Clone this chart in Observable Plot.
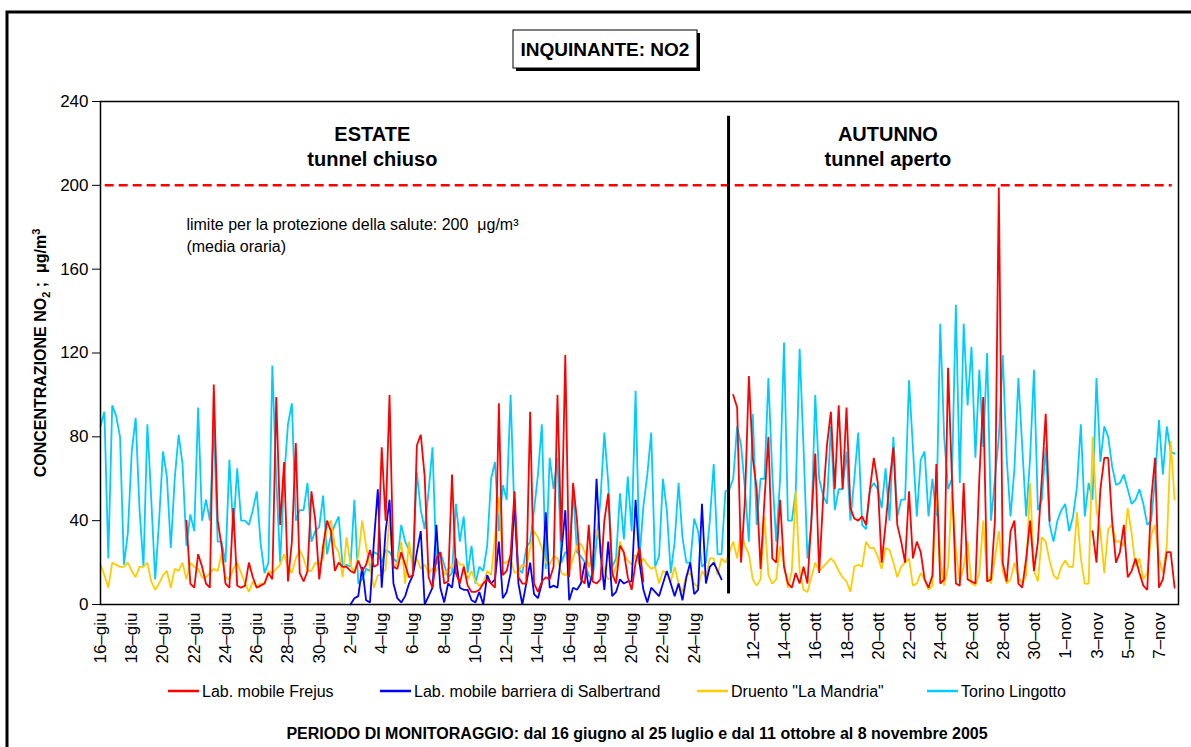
<!DOCTYPE html>
<html>
<head>
<meta charset="utf-8">
<script src="https://cdn.jsdelivr.net/npm/d3@7"></script>
<script src="https://cdn.jsdelivr.net/npm/@observablehq/plot@0.6"></script>
<style>
  body { margin: 0; background: #fff; }
  svg { font-family: "Liberation Sans", Arial, sans-serif; }
</style>
</head>
<body>
<div id="chart"></div>
<script>
// ---------- DATA (readings every 6 hours; null = no measurement) ----------
const STEP = 0.25;          // days between readings
const AUTUMN_START = 40;    // autumn readings follow the 40 summer days
const none = n => Array(n).fill(null);

const seriesNames = ["Lab. mobile Frejus", "Lab. mobile barriera di Salbertrand", "Druento \"La Mandria\"", "Torino Lingotto"];
const seriesColors = ["#ff0000", "#0000ff", "#ffcc00", "#00ccff"];

const frejusSummer = [
  ...none(22),
  40,10,8,24,18,10,8,105,40,28,10,8,46,9,8,9,20,13,
  8,9,10,15,12,99,38,68,11,30,77,15,11,16,54,40,12,28,40,35,16,20,18,18,16,15,21,16,19,26,18,19,75,40,100,18,17,25,19,13,
  14,76,81,61,13,8,22,25,10,11,62,15,10,18,9,6,6,7,10,12,10,8,96,14,16,24,54,13,10,10,92,10,6,11,13,12,18,100,30,119,
  13,58,40,12,10,38,11,10,12,40,53,15,10,28,25,13,7,20,27,11,
  ...none(20)
];
const frejusAutumn = [
  ...none(2),
  100,94,20,50,109,70,55,17,50,80,22,20,50,18,10,8,15,10,18,10,40,72,15,50,76,92,55,95,55,94,46,41,40,42,38,55,70,58,
  20,38,58,75,38,30,20,54,22,30,25,12,8,14,67,10,12,113,60,10,9,58,12,11,10,60,99,11,12,40,199,20,11,35,40,10,8,22,40,16,
  30,60,91,40,
  ...none(10),
  35,20,55,70,70,40,20,25,38,13,16,22,15,9,7,50,70,8,12,25,25,8
];

const salbertrandSummer = [
  ...none(64),
  0,3,4,18,2,1,30,55,8,35,50,10,3,1,4,10,
  14,25,35,0,4,8,38,8,1,10,8,22,8,7,7,2,1,6,0,14,10,12,30,3,6,15,50,10,0,10,20,5,3,10,44,8,9,8,25,45,
  2,8,7,10,20,8,15,60,25,7,30,4,6,12,10,11,11,50,20,7,1,8,6,4,10,16,10,4,10,2,13,20,5,7,48,10,18,20,16,12
];
const salbertrandAutumn = [];

const druentoSummer = [
  19,14,8,20,19,18,18,20,16,13,18,18,20,11,7,10,14,16,8,17,16,20,12,20,18,17,13,13,15,17,16,24,13,12,17,20,15,10,6,11,
  8,10,10,16,15,17,19,24,18,15,22,26,22,16,16,20,19,22,38,40,28,25,13,32,19,15,23,40,28,18,8,14,14,17,42,17,20,30,10,30,
  16,22,17,19,15,17,16,21,14,17,18,22,19,19,12,16,11,9,10,16,14,32,51,20,20,22,15,16,19,18,27,35,32,27,20,19,23,22,15,14,
  16,22,28,29,25,18,22,36,29,16,12,13,18,30,24,21,19,24,19,22,19,17,18,10,16,15,11,18,10,6,14,15,10,8,16,13,22,22,14,22
];
const druentoAutumn = [
  20,25,30,22,35,28,24,12,9,12,42,14,10,12,28,19,8,16,54,16,7,6,13,20,16,18,20,22,20,16,13,11,6,18,19,18,30,27,27,23,
  17,27,26,20,13,18,20,22,9,10,15,12,7,9,58,22,9,18,54,26,11,18,30,10,9,15,40,14,10,22,35,16,10,12,20,13,10,14,58,16,
  11,32,30,21,14,12,18,21,18,18,44,22,10,10,80,45,35,15,36,38,30,30,28,46,34,18,22,12,15,33,38,22,15,28,78,50
];

const torinoSummer = [
  85,92,22,95,90,80,19,34,73,89,45,18,86,50,12,40,73,61,27,60,81,67,28,43,35,94,40,50,40,86,30,30,20,69,35,65,40,40,38,45,
  54,29,15,20,114,60,20,60,86,96,40,45,45,58,30,35,37,52,24,33,38,42,18,19,18,50,10,12,17,16,25,24,20,26,25,22,20,38,30,26,
  20,63,45,36,54,75,19,25,19,13,15,48,30,42,15,28,10,18,16,28,60,68,35,57,50,100,42,17,15,27,30,45,62,86,17,70,55,70,20,25,
  24,54,25,23,20,14,12,30,50,82,58,18,22,53,31,61,35,102,22,47,62,82,18,23,60,45,15,30,58,32,20,20,41,35,18,20,40,67,24,24
];
const torinoAutumn = [
  54,55,60,85,76,55,30,91,38,60,60,108,62,30,60,125,40,40,54,122,75,22,38,100,60,52,48,85,45,55,55,73,40,60,82,38,36,55,58,55,
  46,65,40,80,42,50,50,107,75,42,69,73,42,60,42,134,80,55,60,143,58,134,95,123,70,112,75,120,40,60,80,119,70,42,65,108,75,42,70,112,
  45,50,75,38,30,40,45,48,35,42,56,86,42,58,50,108,68,85,80,66,57,58,62,55,48,50,55,48,38,40,60,88,62,85,73,72
];

const summerTickLabels = ["16–giu","18–giu","20–giu","22–giu","24–giu","26–giu","28–giu","30–giu","2–lug","4–lug","6–lug","8–lug","10–lug","12–lug","14–lug","16–lug","18–lug","20–lug","22–lug","24–lug"];
const autumnTickLabels = ["12–ott","14–ott","16–ott","18–ott","20–ott","22–ott","24–ott","26–ott","28–ott","30–ott","1–nov","3–nov","5–nov","7–nov"];
const yTicks = [0, 40, 80, 120, 160, 200, 240];
const LIMIT = 200;

// ---------- BUILD ----------
const summerSets = [frejusSummer, salbertrandSummer, druentoSummer, torinoSummer];
const autumnSets = [frejusAutumn, salbertrandAutumn, druentoAutumn, torinoAutumn];
const rowsFor = i => [
  ...summerSets[i].map((v, k) => ({name: seriesNames[i], t: k * STEP, v})),
  ...autumnSets[i].map((v, k) => ({name: seriesNames[i], t: AUTUMN_START + k * STEP, v}))
];

const AUTUMN_LABEL_START = 41.8;
const tickPos = [
  ...summerTickLabels.map((_, i) => 2 * i),
  ...autumnTickLabels.map((_, i) => AUTUMN_LABEL_START + 2 * i)
];
const tickLab = new Map(tickPos.map((p, i) => [p, [...summerTickLabels, ...autumnTickLabels][i]]));

const drawOrder = [3, 2, 1, 0];
const FONT = "Liberation Sans, Arial, sans-serif";

const svg = Plot.plot({
  width: 1191,
  height: 747,
  marginLeft: 100,
  marginRight: 13,
  marginTop: 101,
  marginBottom: 143,
  style: {fontFamily: FONT, fontSize: "17px", color: "#000", background: "#fff", overflow: "visible"},
  x: {domain: [0, 69], axis: null},
  y: {domain: [0, 240], axis: null},
  marks: [
    ...drawOrder.map(i => Plot.line(rowsFor(i), {x: "t", y: "v", stroke: seriesColors[i], strokeWidth: 1.8, strokeLinejoin: "miter"})),
    Plot.ruleY([LIMIT], {x1: 0.3, x2: 68.6, stroke: "#ff0000", strokeWidth: 2.5, strokeDasharray: "9,5"}),
    Plot.ruleX([40.2], {y1: 5, y2: 233, stroke: "#000", strokeWidth: 3}),
    Plot.text(["ESTATE\ntunnel chiuso"], {x: 17.4, y: 219.2, fontSize: 20, fontWeight: "bold", lineHeight: 1.25, textAnchor: "middle", fill: "#000"}),
    Plot.text(["AUTUNNO\ntunnel aperto"], {x: 50.4, y: 219.2, fontSize: 20, fontWeight: "bold", lineHeight: 1.25, textAnchor: "middle", fill: "#000"}),
    Plot.text([`limite per la protezione della salute: ${LIMIT}  μg/m³\n(media oraria)`], {x: 5.5, y: 177, fontSize: 16, lineHeight: 1.375, textAnchor: "start", fill: "#000"}),
    Plot.axisY({ticks: yTicks, tickSize: 8, tickPadding: 4, fontSize: 17, label: null, stroke: "#000"}),
    Plot.axisX({ticks: tickPos, tickFormat: d => tickLab.get(d), tickRotate: -90, tickSize: 0, tickPadding: 8, fontSize: 17, label: null}),
    Plot.frame({stroke: "#000", strokeWidth: 1.5})
  ]
});

document.getElementById("chart").appendChild(svg);
const s = d3.select(svg);
s.selectAll("text").style("white-space", "pre");

// outer border
s.append("rect").attr("x", 7).attr("y", 12).attr("width", 1200).attr("height", 800)
  .attr("fill", "none").attr("stroke", "#000").attr("stroke-width", 3);

// title box
s.append("rect").attr("x", 516).attr("y", 33).attr("width", 184).attr("height", 38).attr("fill", "#000");
s.append("rect").attr("x", 513).attr("y", 30).attr("width", 184).attr("height", 38).attr("fill", "#fff").attr("stroke", "#000").attr("stroke-width", 1);
s.append("text").attr("x", 605).attr("y", 56).attr("text-anchor", "middle")
  .attr("font-family", FONT).attr("font-size", 19).attr("font-weight", "bold").text("INQUINANTE: NO2");

// y axis label
const yl = s.append("text").attr("transform", "translate(46,353) rotate(-90)").attr("text-anchor", "middle")
  .attr("font-family", FONT).attr("font-size", 16).attr("font-weight", "bold").style("white-space", "pre");
yl.append("tspan").text("CONCENTRAZIONE NO");
yl.append("tspan").attr("dy", 4).attr("font-size", 11).text("2");
yl.append("tspan").attr("dy", -4).text(" ;  μg/m");
yl.append("tspan").attr("dy", -6).attr("font-size", 11).text("3");

// legend
const legendX = [168, 380, 697, 927];
seriesNames.forEach((name, i) => {
  s.append("line").attr("x1", legendX[i]).attr("x2", legendX[i] + 31).attr("y1", 691).attr("y2", 691)
    .attr("stroke", seriesColors[i]).attr("stroke-width", 2.5);
  s.append("text").attr("x", legendX[i] + 34).attr("y", 697).attr("text-anchor", "start")
    .attr("font-family", FONT).attr("font-size", 16).text(name);
});

// caption
s.append("text").attr("x", 637).attr("y", 739).attr("text-anchor", "middle")
  .attr("font-family", FONT).attr("font-size", 16).attr("font-weight", "bold")
  .text("PERIODO DI MONITORAGGIO: dal 16 giugno al 25 luglio e dal 11 ottobre al 8 novembre 2005");
</script>
</body>
</html>
